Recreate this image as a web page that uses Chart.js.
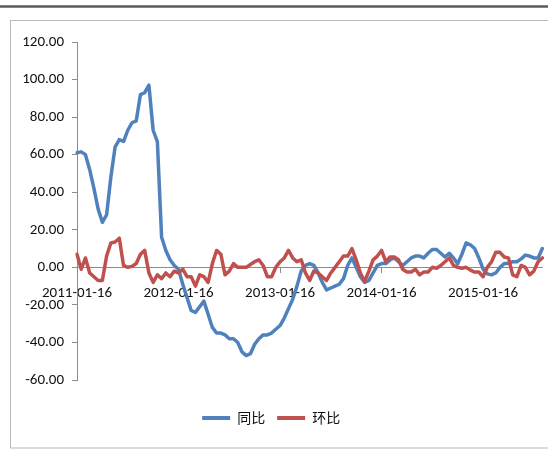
<!DOCTYPE html>
<html>
<head>
<meta charset="utf-8">
<script src="https://cdn.jsdelivr.net/npm/chart.js@4.4.0/dist/chart.umd.min.js"></script>
<style>
  html, body { margin: 0; padding: 0; background: #fff; }
  #wrap { position: relative; width: 548px; height: 450px; }
</style>
</head>
<body>
<div id="wrap"><canvas id="c" width="548" height="450"></canvas></div>
<script>
// Year-on-year change (%), half-monthly from 2011-01-16
const yoy = [
  61, 61.5, 60, 52, 42, 31, 24, 28, 48, 64,
  68, 67, 73, 77, 78, 92, 93, 97, 73, 67,
  16, 9, 4, 1, -1, -9, -16, -23, -24, -21,
  -18, -25, -32, -35, -35, -36, -38, -38, -40, -45,
  -47, -46, -41, -38, -36, -36, -35, -33, -31, -27,
  -22, -17, -10, -2, 1, 2, 1, -3, -8, -12,
  -11, -10, -9, -6, 1, 5, 0, -5, -8, -7,
  -3, 1, 2, 2, 4, 5, 3, 1, 3, 5,
  6, 6, 5, 7.5, 9.5, 9.5, 7.5, 5.5, 7.5, 5,
  2, 7, 13, 12, 10, 5, -1, -3.5, -4, -3,
  0, 2, 2, 3, 3, 4.5, 6.5, 6, 5, 5,
  10
];

// Period-on-period change (%), same dates
const mom = [
  7, -1, 5, -3, -5, -7, -7, 6, 13, 13.5,
  15.5, 1, 0, 0.5, 2, 7, 9, -3, -8, -4,
  -6, -3, -5, -2, -3, -1, -5, -5, -10, -4,
  -5, -8, 2, 9, 7, -4, -2, 2, 0, 0,
  0, 1.5, 3, 4, 1, -5, -5, 0, 3, 5,
  9, 5, 3, 4, -3, -7, -2, -3, -5, -7,
  -3, 0, 3, 6, 6, 10, 4, -3, -7.5, -2,
  4, 6, 9, 3, 5.5, 5.5, 4, -1, -2.5, -2.5,
  -1, -4, -2.5, -2.5, 0, -0.5, 1, 3, 5, 1,
  0, -0.5, 0, -1.5, -2.5, -2.5, -5, 0, 3, 8,
  8, 5.5, 5, -4, -5, 1, 0, -4, -2, 3,
  5
];

const seriesNames = ['同比', '环比'];
const seriesColors = ['#4F81BD', '#C0504D'];
const yearTicks = ['2011-01-16', '2012-01-16', '2013-01-16', '2014-01-16', '2015-01-16'];
const yRange = { min: -60, max: 120, step: 20 };

// Category dates: the 16th and the 1st of each month, starting 2011-01-16
const dates = [];
{
  let y = 2011, m = 1, d = 16;
  for (let i = 0; i < yoy.length; i++) {
    dates.push(`${y}-${String(m).padStart(2, '0')}-${String(d).padStart(2, '0')}`);
    if (d === 16) { d = 1; m++; if (m > 12) { m = 1; y++; } } else { d = 16; }
  }
}

const tickFont = { family: 'Carlito, "Liberation Sans Narrow", Lato, sans-serif', size: 15 };
const axisGrey = '#8c8c8c';

// Page frame: dark rule across the top and a light box round the chart
const framePlugin = {
  id: 'frame',
  beforeDraw(chart) {
    const ctx = chart.ctx;
    ctx.save();
    ctx.fillStyle = '#fff';
    ctx.fillRect(0, 0, chart.width, chart.height);
    ctx.strokeStyle = '#5a5a5a';
    ctx.lineWidth = 2.5;
    ctx.beginPath();
    ctx.moveTo(0, 6.5);
    ctx.lineTo(chart.width, 6.5);
    ctx.stroke();
    ctx.strokeStyle = '#b9b9b9';
    ctx.lineWidth = 1;
    ctx.strokeRect(10.5, 20.5, chart.width + 10, 427.5);
    ctx.restore();
  }
};

new Chart(document.getElementById('c'), {
  type: 'line',
  data: {
    labels: dates,
    datasets: [
      {
        label: seriesNames[0], data: yoy, order: 1,
        borderColor: seriesColors[0], backgroundColor: seriesColors[0],
        borderWidth: 3.5, pointRadius: 0, tension: 0,
        borderJoinStyle: 'round', borderCapStyle: 'round'
      },
      {
        label: seriesNames[1], data: mom, order: 0,
        borderColor: seriesColors[1], backgroundColor: seriesColors[1],
        borderWidth: 3.5, pointRadius: 0, tension: 0,
        borderJoinStyle: 'round', borderCapStyle: 'round'
      }
    ]
  },
  options: {
    responsive: false,
    animation: false,
    devicePixelRatio: 1,
    layout: { padding: { left: 0, right: 5.7, top: 42, bottom: 15 } },
    plugins: {
      tooltip: { enabled: false },
      legend: {
        position: 'bottom',
        title: { display: true, text: ' ', padding: 3.5, font: { size: 10 } },
        labels: {
          boxWidth: 28, boxHeight: 4, padding: 12, color: '#111',
          font: { family: '"Noto Sans CJK SC", sans-serif', size: 14 },
          generateLabels(chart) {
            return chart.data.datasets.map((ds, i) => ({
              text: ds.label, fillStyle: ds.borderColor, strokeStyle: ds.borderColor,
              lineWidth: 0, hidden: false, datasetIndex: i, fontColor: '#111'
            }));
          }
        }
      }
    },
    scales: {
      x: {
        type: 'category',
        position: { y: 0 },
        offset: false,
        border: { color: axisGrey, width: 1 },
        grid: { drawOnChartArea: false, tickLength: 5, color: axisGrey },
        ticks: { autoSkip: false, maxRotation: 0, padding: 12, color: '#111', font: tickFont },
        afterBuildTicks(scale) {
          scale.ticks = scale.ticks.filter(t => yearTicks.includes(dates[t.value]));
        }
      },
      y: {
        min: yRange.min, max: yRange.max,
        border: { color: axisGrey, width: 1 },
        grid: { drawOnChartArea: false, tickLength: 5, color: axisGrey },
        ticks: {
          stepSize: yRange.step, padding: 8, color: '#111', font: tickFont,
          callback: v => Number(v).toFixed(2)
        },
        afterFit(scale) { scale.width = 77; }
      }
    }
  },
  plugins: [framePlugin]
});
</script>
</body>
</html>
